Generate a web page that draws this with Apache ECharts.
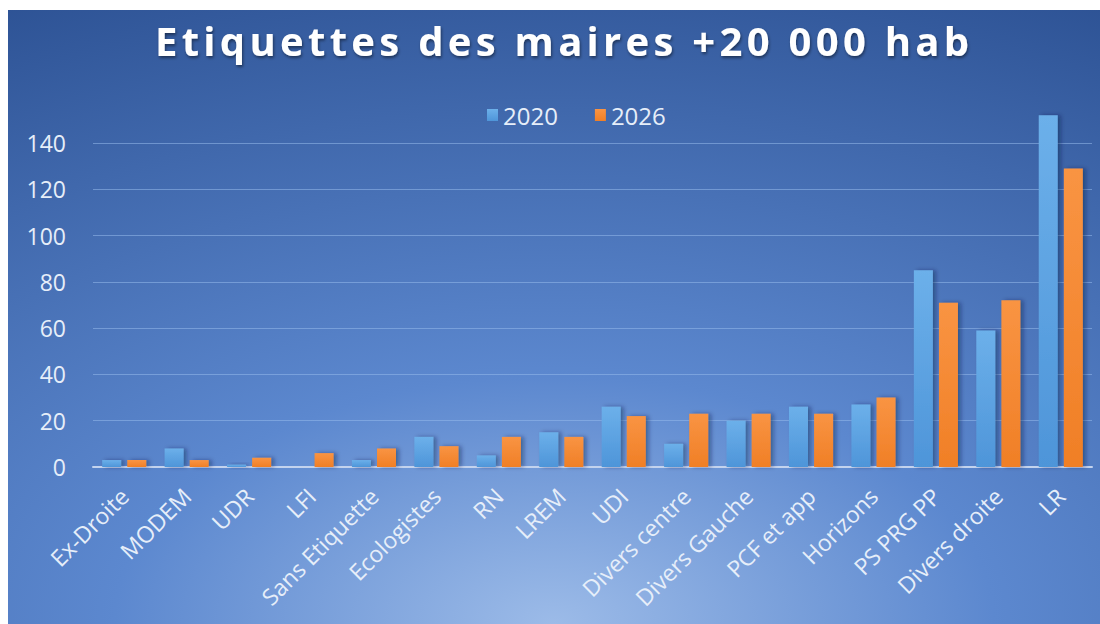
<!DOCTYPE html>
<html>
<head>
<meta charset="utf-8">
<title>Etiquettes des maires +20 000 hab</title>
<script src="https://cdn.jsdelivr.net/npm/echarts@6/dist/echarts.min.js"></script>
<style>
  body { margin: 0; background: #fff; }
  #main { position: absolute; left: 8px; top: 10px; width: 1092px; height: 614px; }
  /* le titre Excel a un espacement de caractères élargi */
  #main text[style*="40px"] { letter-spacing: 4.3px; }
</style>
</head>
<body>
<div id="main"></div>
<script>
var categories = ['Ex-Droite', 'MODEM', 'UDR', 'LFI', 'Sans Etiquette', 'Ecologistes', 'RN', 'LREM',
  'UDI', 'Divers centre', 'Divers Gauche', 'PCF et app', 'Horizons', 'PS PRG PP', 'Divers droite', 'LR'];
var maires2020 = [3, 8, 1, 0, 3, 13, 5, 15, 26, 10, 20, 26, 27, 85, 59, 152];
var maires2026 = [3, 3, 4, 6, 8, 9, 13, 13, 22, 23, 23, 23, 30, 71, 72, 129];
var yTicks = [0, 20, 40, 60, 80, 100, 120, 140];

var myChart = echarts.init(document.getElementById('main'), null, { renderer: 'svg' });

var labelColor = '#e6eef9';
var font = 'Open Sans';

option = {
  backgroundColor: {
    type: 'radial', x: 0.5, y: 1.0, r: 1.15,
    colorStops: [
      { offset: 0, color: '#9cbbe8' },
      { offset: 0.35, color: '#5c88cf' },
      { offset: 1, color: '#2c5193' }
    ]
  },
  title: {
    text: 'Etiquettes des maires +20 000 hab',
    left: 142,
    top: 5,
    textStyle: {
      color: '#ffffff',
      fontFamily: font,
      fontWeight: 'bold',
      fontSize: 40,
      textShadowColor: 'rgba(0,0,0,0.45)',
      textShadowBlur: 3,
      textShadowOffsetX: 1,
      textShadowOffsetY: 2
    }
  },
  legend: {
    data: ['2020', '2026'],
    left: 474,
    top: 88,
    itemWidth: 11,
    itemHeight: 12,
    itemGap: 37,
    icon: 'rect',
    textStyle: { color: labelColor, fontFamily: font, fontSize: 24 }
  },
  grid: { left: 85, right: 8, top: 133, bottom: 157 },
  xAxis: {
    type: 'category',
    data: categories,
    axisLine: { lineStyle: { color: '#c3d3ee', width: 2 } },
    axisTick: { show: false },
    axisLabel: {
      rotate: 45,
      interval: 0,
      margin: 25,
      color: labelColor,
      fontFamily: font,
      fontSize: 23
    }
  },
  yAxis: {
    type: 'value',
    min: yTicks[0],
    max: yTicks[yTicks.length - 1],
    interval: yTicks[1] - yTicks[0],
    axisLine: { show: false },
    axisTick: { show: false },
    axisLabel: { color: labelColor, fontFamily: font, fontSize: 23, margin: 27 },
    splitLine: { lineStyle: { color: 'rgba(150,185,235,0.55)', width: 1 } }
  },
  series: [
    {
      name: '2020',
      type: 'bar',
      data: maires2020,
      clip: false,
      barWidth: 19,
      barGap: '32%',
      itemStyle: {
        color: {
          type: 'linear', x: 0, y: 0, x2: 0, y2: 1,
          colorStops: [{ offset: 0, color: '#6cb0ea' }, { offset: 1, color: '#4e95d9' }]
        },
        shadowColor: 'rgba(0,20,60,0.4)',
        shadowBlur: 4,
        shadowOffsetX: 3
      }
    },
    {
      name: '2026',
      type: 'bar',
      data: maires2026,
      clip: false,
      barWidth: 19,
      itemStyle: {
        color: {
          type: 'linear', x: 0, y: 0, x2: 0, y2: 1,
          colorStops: [{ offset: 0, color: '#f99443' }, { offset: 1, color: '#f07f26' }]
        },
        shadowColor: 'rgba(0,20,60,0.4)',
        shadowBlur: 4,
        shadowOffsetX: 3
      }
    }
  ]
};
myChart.setOption(option);
</script>
</body>
</html>
